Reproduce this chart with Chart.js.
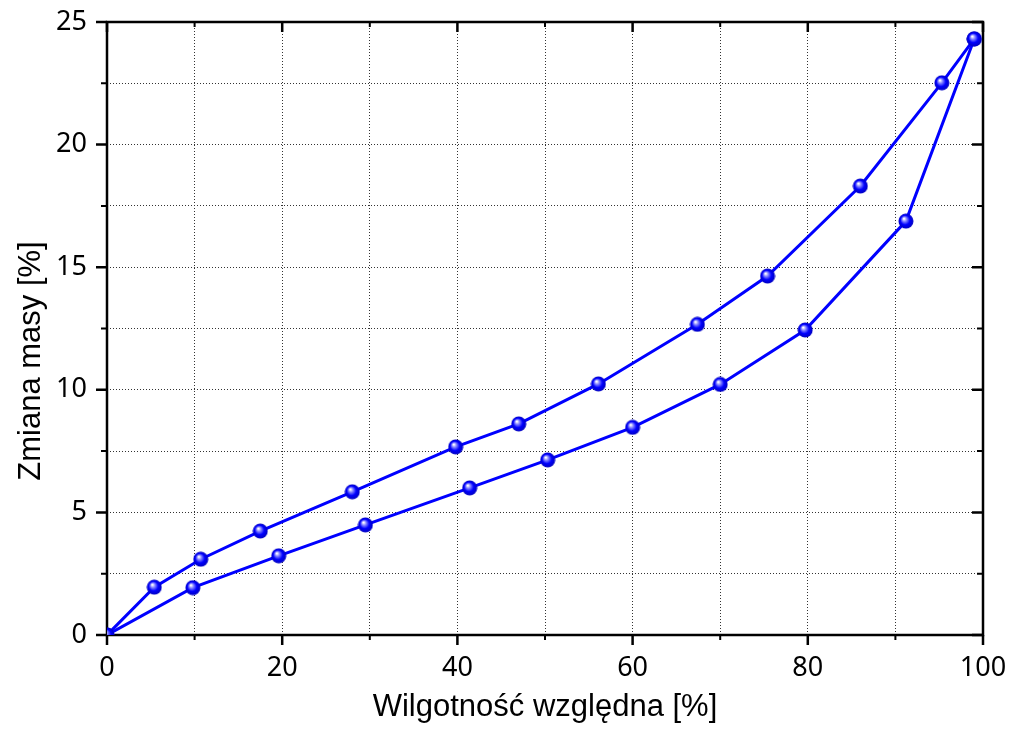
<!DOCTYPE html>
<html>
<head>
<meta charset="utf-8">
<script src="https://cdn.jsdelivr.net/npm/chart.js@4/dist/chart.umd.min.js"></script>
<style>
  body { margin: 0; background: #fff; }
</style>
</head>
<body>
<canvas id="chartSorp" width="1018" height="729"></canvas>
<script>
//データ（吸着・脱着）
const adsX = [0, 9.8, 19.6, 29.5, 41.4, 50.3, 60.0, 70.0, 79.7, 91.2, 99.0];
const adsY = [0, 1.93, 3.23, 4.49, 6.0, 7.14, 8.47, 10.22, 12.44, 16.88, 24.31];
const desX = [99.0, 95.3, 86.0, 75.4, 67.4, 56.1, 47.0, 39.8, 28.0, 17.5, 10.7, 5.4, 0];
const desY = [24.31, 22.52, 18.31, 14.64, 12.67, 10.24, 8.61, 7.67, 5.84, 4.24, 3.09, 1.95, 0];
const xLabels = [0, 20, 40, 60, 80, 100];
const yLabels = [0, 5, 10, 15, 20, 25];
const xTitle = 'Wilgotność względna [%]';
const yTitle = 'Zmiana masy [%]';

//点のスタイル（青い球）
function makeBall(){
    const c = document.createElement('canvas');
    c.width = 16; c.height = 16;
    const g = c.getContext('2d');
    const grad = g.createRadialGradient(6, 5.5, 0.5, 8, 8, 7.5);
    grad.addColorStop(0, '#ffffff');
    grad.addColorStop(0.25, '#8888ff');
    grad.addColorStop(0.6, '#0000ff');
    grad.addColorStop(1, '#0000c0');
    g.fillStyle = grad;
    g.beginPath();
    g.arc(8, 8, 7.5, 0, Math.PI * 2);
    g.fill();
    return c;
}
const ball = makeBall();

function toPoints(xs, ys){
    return xs.map((v, i) => ({x: v, y: ys[i]}));
}

//枠と目盛り
const frameTicks = {
    id: 'frameTicks',
    beforeDatasetsDraw(chart){
        const {ctx, chartArea: a, scales: {x, y}} = chart;
        ctx.save();
        ctx.strokeStyle = '#000';
        ctx.lineCap = 'butt';
        x.ticks.forEach(t => {
            const px = x.getPixelForValue(t.value);
            const major = xLabels.includes(t.value);
            const len = major ? 10 : 5;
            ctx.lineWidth = major ? 2.5 : 2;
            ctx.beginPath();
            ctx.moveTo(px, a.bottom); ctx.lineTo(px, a.bottom + len);
            ctx.moveTo(px, a.top); ctx.lineTo(px, a.top + len);
            ctx.stroke();
        });
        y.ticks.forEach(t => {
            const py = y.getPixelForValue(t.value);
            const major = yLabels.includes(t.value);
            const len = major ? 11 : 6;
            ctx.lineWidth = major ? 2.5 : 2;
            ctx.beginPath();
            ctx.moveTo(a.left, py); ctx.lineTo(a.left - len, py);
            ctx.moveTo(a.right, py); ctx.lineTo(a.right - len, py);
            ctx.stroke();
        });
        ctx.lineWidth = 2.5;
        ctx.strokeRect(a.left, a.top, a.right - a.left, a.bottom - a.top);
        ctx.restore();
    },
    afterDraw(chart){
        const ctx = chart.ctx;
        ctx.save();
        ctx.translate(31, 361);
        ctx.rotate(-Math.PI / 2);
        ctx.font = '31px "Liberation Sans", Arial, sans-serif';
        ctx.fillStyle = '#000';
        ctx.textAlign = 'center';
        ctx.textBaseline = 'middle';
        ctx.fillText(yTitle, 0, 0);
        ctx.restore();
    }
};

const lineStyle = {
    borderColor: '#0000ff',
    borderWidth: 3,
    pointStyle: ball,
    tension: 0,
    showLine: true
};

const tickFont = { family: '"Noto Sans", sans-serif', size: 27 };

new Chart(document.getElementById('chartSorp'), {
    type: 'line',
    data: {
        datasets: [
            Object.assign({data: toPoints(adsX, adsY)}, lineStyle),
            Object.assign({data: toPoints(desX, desY)}, lineStyle)
        ]
    },
    options: {
        responsive: false,
        animation: false,
        devicePixelRatio: 1,
        layout: { padding: { top: 22, right: 35, left: 0, bottom: 0 } },
        plugins: { legend: { display: false }, tooltip: { enabled: false } },
        scales: {
            x: {
                type: 'linear',
                min: 0, max: 100,
                afterFit: s => { s.height = 94; s.paddingLeft = 0; s.paddingRight = 0; },
                border: { display: false, dash: [1, 2] },
                grid: { color: '#333', lineWidth: 1, drawTicks: false },
                ticks: {
                    stepSize: 10,
                    autoSkip: false,
                    maxRotation: 0,
                    padding: 17,
                    color: '#000',
                    font: tickFont,
                    callback: v => xLabels.includes(v) ? v : ''
                },
                title: {
                    display: true,
                    text: xTitle,
                    color: '#000',
                    font: { family: '"Liberation Sans", Arial, sans-serif', size: 31 },
                    padding: { top: 0, bottom: 3 }
                }
            },
            y: {
                type: 'linear',
                min: 0, max: 25,
                afterFit: s => { s.width = 107; s.paddingTop = 0; s.paddingBottom = 0; },
                border: { display: false, dash: [1, 2] },
                grid: { color: '#333', lineWidth: 1, drawTicks: false },
                ticks: {
                    stepSize: 2.5,
                    autoSkip: false,
                    padding: 20,
                    color: '#000',
                    font: tickFont,
                    callback: v => yLabels.includes(v) ? v : ''
                }
            }
        }
    },
    plugins: [frameTicks]
});
</script>
</body>
</html>
